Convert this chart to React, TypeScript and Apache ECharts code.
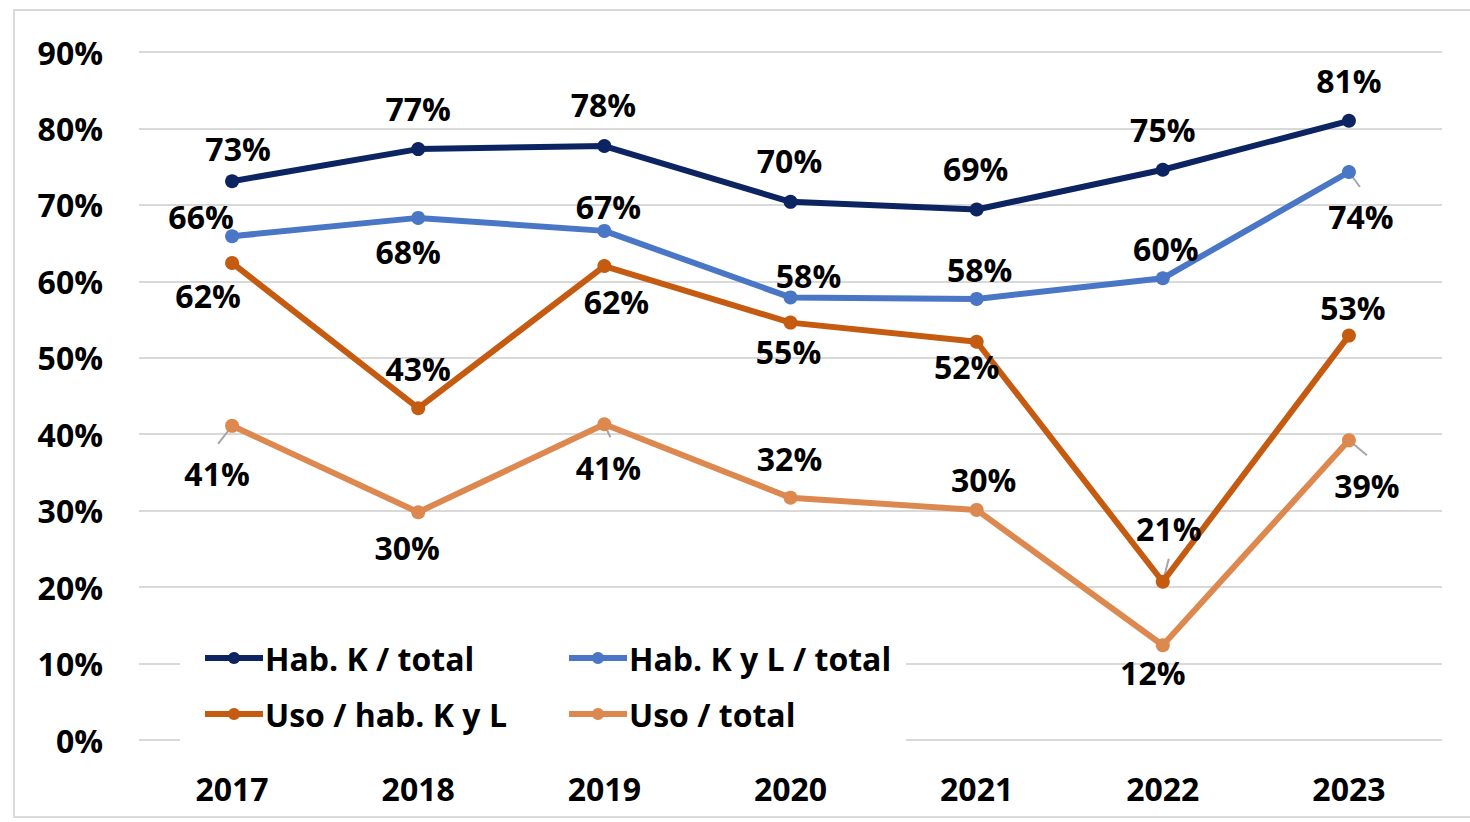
import React, { useEffect, useRef } from "react";
import * as echarts from "echarts";

const years = ["2017", "2018", "2019", "2020", "2021", "2022", "2023"];
const habKTotal = [73.1, 77.3, 77.7, 70.4, 69.4, 74.6, 81.0];
const habKLTotal = [65.9, 68.3, 66.6, 57.9, 57.7, 60.4, 74.3];
const usoHabKL = [62.4, 43.4, 62.0, 54.6, 52.1, 20.7, 52.9];
const usoTotal = [41.1, 29.8, 41.3, 31.7, 30.1, 12.4, 39.2];
const seriesNames = ["Hab. K / total", "Hab. K y L / total", "Uso / hab. K y L", "Uso / total"];
const yTicks = [0, 10, 20, 30, 40, 50, 60, 70, 80, 90];

// label offsets (px) relative to each point
const offHK = [[6, -33], [0, -41], [-1, -42], [-1, -41], [-1, -41], [0, -40], [0, -40]];
const offHKL = [[-31, -20], [-10, 34], [4, -24], [18, -22], [3, -29], [3, -30], [12, 44]];
const offUH = [[-24, 33], [0, -40], [12, 35], [-2, 29], [-10, 25], [6, -53], [4, -28]];
const offUT = [[-15, 48], [-11, 35], [4, 43], [-1, -39], [7, -30], [-10, 27], [18, 45]];

// leader stubs: [series index, category index, dx, dy]
const leaders = [
  [1, 6, 11, 15],
  [2, 5, 6, -23],
  [3, 0, -14, 18],
  [3, 2, 6, 13],
  [3, 6, 18, 15],
];

const colors = ["#0c2461", "#4a76c6", "#c55a11", "#dc884f"];
const FONT = "'Open Sans', 'Noto Sans', sans-serif";
const FS = 32;

export default function App() {
  const ref = useRef<HTMLDivElement>(null);
  useEffect(() => {
    if (!ref.current) return;
    const chart = echarts.init(ref.current, undefined, { renderer: "svg" });
    const allVals = [habKTotal, habKLTotal, usoHabKL, usoTotal];
    const offs = [offHK, offHKL, offUH, offUT];
    const datas = allVals.map((vals, s) =>
      vals.map((v, i) => ({ value: v, label: { offset: offs[s][i] } }))
    );
    const leaderData = leaders.map(([s, c, dx, dy]) => [c, allVals[s][c], dx, dy]);
    const legendPos = [
      [202, 642],
      [566, 642],
      [202, 698],
      [566, 698],
    ];
    chart.setOption({
      animation: false,
      backgroundColor: "#ffffff",
      textStyle: { fontFamily: FONT },
      grid: { left: 139, right: 28, top: 52, bottom: 82, containLabel: false },
      xAxis: {
        type: "category",
        data: years,
        boundaryGap: true,
        axisLine: { show: false },
        axisTick: { show: false },
        axisLabel: { color: "#000", fontSize: FS, fontWeight: "bold", fontFamily: FONT, margin: 32 },
      },
      yAxis: {
        type: "value",
        min: yTicks[0],
        max: yTicks[yTicks.length - 1],
        interval: 10,
        axisLine: { show: false },
        axisTick: { show: false },
        splitLine: { lineStyle: { color: "#d9d9d9", width: 2 } },
        axisLabel: {
          color: "#000",
          fontSize: FS,
          fontWeight: "bold",
          fontFamily: FONT,
          margin: 36,
          formatter: "{value}%",
        },
      },
      legend: seriesNames.map((n, i) => ({
        data: [n],
        left: legendPos[i][0],
        top: legendPos[i][1],
        itemWidth: 58,
        itemHeight: 15,
        itemGap: 4,
        lineStyle: { width: 6 },
        textStyle: { color: "#000", fontSize: FS, fontWeight: "bold", fontFamily: FONT, padding: [0, 0, 0, -3] },
        padding: 0,
        z: 5,
      })),
      graphic: [
        {
          type: "rect",
          z: 1,
          shape: { x: 180, y: 628, width: 726, height: 120 },
          style: { fill: "#ffffff" },
          silent: true,
        },
        {
          type: "rect",
          z: 10,
          shape: { x: 14, y: 10, width: 1470, height: 807 },
          style: { fill: "none", stroke: "#d9d9d9", lineWidth: 2 },
          silent: true,
        },
      ],
      series: [
        ...seriesNames.map((n, i) => ({
          name: n,
          type: "line",
          data: datas[i],
          color: colors[i],
          symbol: "circle",
          symbolSize: 14,
          z: 3,
          lineStyle: { width: 6, color: colors[i] },
          itemStyle: { color: colors[i] },
          label: {
            show: true,
            position: "inside",
            color: "#000",
            fontSize: FS,
            fontWeight: "bold",
            fontFamily: FONT,
            formatter: (p: any) => Math.round(p.value) + "%",
          },
        })),
        {
          type: "custom",
          name: "leaders",
          z: 2,
          silent: true,
          data: leaderData,
          renderItem: (params: any, api: any) => {
            const p = api.coord([api.value(0), api.value(1)]);
            return {
              type: "line",
              shape: { x1: p[0], y1: p[1], x2: p[0] + api.value(2), y2: p[1] + api.value(3) },
              style: { stroke: "#a6a6a6", lineWidth: 2 },
            };
          },
        },
      ],
    });
    return () => chart.dispose();
  }, []);
  return (
    <div
      ref={ref}
      style={{ position: "fixed", left: 0, top: 0, width: 1470, height: 822, background: "#fff" }}
    />
  );
}
